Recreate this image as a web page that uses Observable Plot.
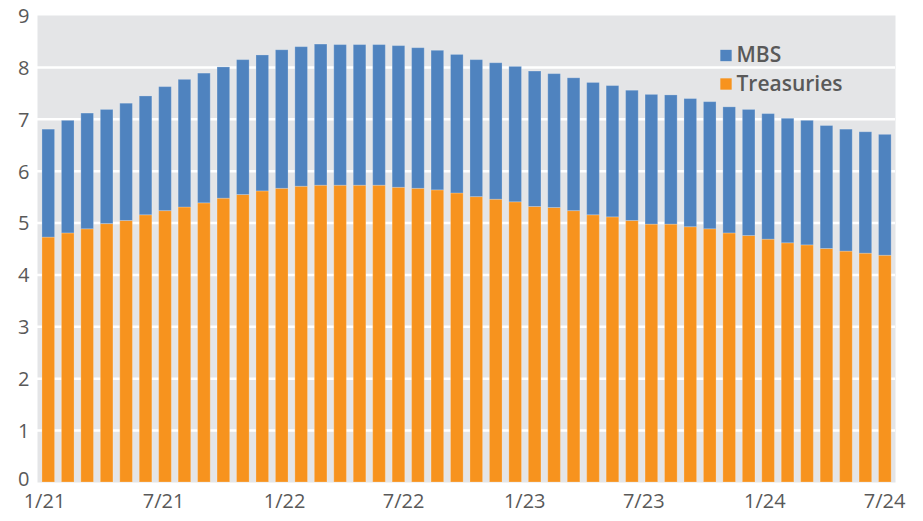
<!DOCTYPE html>
<html>
<head>
<meta charset="utf-8">
<script src="https://cdn.jsdelivr.net/npm/d3@7"></script>
<script src="https://cdn.jsdelivr.net/npm/@observablehq/plot@0.6"></script>
<style>
  html, body { margin: 0; padding: 0; background: #ffffff; }
  #chart { width: 923px; height: 521px; }
</style>
</head>
<body>
<div id="chart"></div>
<script>
// X-axis tick labels (month/year)
const tickLabels = ["1/21", "7/21", "1/22", "7/22", "1/23", "7/23", "1/24", "7/24"];
// Y-axis tick values
const yTicks = [0, 1, 2, 3, 4, 5, 6, 7, 8, 9];

// Series names and colours
const seriesNames = ["MBS", "Treasuries"];
const seriesColors = ["#4f83bf", "#f7931e"];

// Treasuries holdings (trillions), one per bar
const treasuries = [
  4.72, 4.80, 4.88, 4.98, 5.04, 5.15, 5.23, 5.30, 5.38, 5.47, 5.54,
  5.61, 5.66, 5.70, 5.72, 5.72, 5.72, 5.72, 5.68, 5.66, 5.63, 5.57,
  5.50, 5.45, 5.40, 5.31, 5.29, 5.23, 5.15, 5.11, 5.04, 4.97, 4.97,
  4.92, 4.88, 4.80, 4.75, 4.68, 4.61, 4.57, 4.50, 4.45, 4.41, 4.37
];

// MBS holdings (trillions), one per bar
const mbs = [
  2.08, 2.17, 2.23, 2.20, 2.26, 2.29, 2.39, 2.46, 2.50, 2.53, 2.60,
  2.62, 2.67, 2.69, 2.72, 2.71, 2.71, 2.71, 2.73, 2.71, 2.69, 2.67,
  2.64, 2.63, 2.61, 2.61, 2.58, 2.56, 2.55, 2.53, 2.51, 2.50, 2.49,
  2.47, 2.45, 2.43, 2.43, 2.42, 2.40, 2.40, 2.37, 2.35, 2.34, 2.33
];

const DAY = 864e5;
// bar dates: evenly spaced observations from early Jan 2021 to early Jul 2024
const firstBar = Date.UTC(2021, 0, 7, 12);
const lastBar = Date.UTC(2024, 6, 2, 6);
const barDates = treasuries.map((_, i) =>
  new Date(firstBar + (lastBar - firstBar) * i / (treasuries.length - 1)));
const halfWidth = 9.6 * DAY;

const tickDates = tickLabels.map(s => {
  const [m, y] = s.split("/").map(Number);
  return new Date(Date.UTC(2000 + y, m - 1, 1));
});

const rows = [];
treasuries.forEach((t, i) => {
  rows.push({date: barDates[i], series: "Treasuries", y1: 0, y2: t});
  rows.push({date: barDates[i], series: "MBS", y1: t, y2: t + mbs[i]});
});

const legendMarks = [];
seriesNames.forEach((s, i) => {
  legendMarks.push(Plot.dot([s], {
    frameAnchor: "top-left", dx: 688.5, dy: 40 + 28.5 * i,
    symbol: "square", r: 6.4, fill: seriesColors[i], stroke: null
  }));
  legendMarks.push(Plot.text([s], {
    frameAnchor: "top-left", dx: 699, dy: 40 + 28.5 * i,
    text: d => d, textAnchor: "start", lineAnchor: "middle",
    fontSize: 21, fontWeight: 600, fill: "#595959"
  }));
});

const chart = Plot.plot({
  width: 923,
  height: 521,
  marginLeft: 37,
  marginRight: 28,
  marginTop: 15,
  marginBottom: 39,
  style: {fontFamily: "'Open Sans', sans-serif", fontSize: "20px", color: "#595959", background: "#ffffff"},
  x: {type: "utc", domain: [new Date(Date.UTC(2020, 11, 21, 9)), new Date(Date.UTC(2024, 6, 17, 17))], label: null},
  y: {domain: [0, 9], label: null},
  color: {domain: seriesNames, range: seriesColors},
  marks: [
    Plot.frame({fill: "#e4e5e7", stroke: null}),
    Plot.gridY(yTicks.filter(v => v > 0 && v < 9), {stroke: "#ffffff", strokeOpacity: 1, strokeWidth: 2.5}),
    Plot.rectY(rows, {
      x1: d => new Date(+d.date - halfWidth),
      x2: d => new Date(+d.date + halfWidth),
      y1: "y1", y2: "y2", fill: "series",
      stroke: "#ffffff", strokeOpacity: 0.22, strokeWidth: 1
    }),
    Plot.axisY({ticks: yTicks.filter(v => v > 0), tickSize: 0, tickPadding: 8, tickFormat: d => String(d), fontSize: 20, fill: "#595959", dy: 1}),
    Plot.axisY({ticks: yTicks.filter(v => v === 0), tickSize: 0, tickPadding: 8, tickFormat: d => String(d), fontSize: 20, fill: "#595959", dy: -3}),
    Plot.axisX({ticks: tickDates, tickSize: 0, tickPadding: 11, tickFormat: (d, i) => tickLabels[i], fontSize: 20, fill: "#595959"}),
    ...legendMarks
  ]
});

document.getElementById("chart").appendChild(chart);
</script>
</body>
</html>
